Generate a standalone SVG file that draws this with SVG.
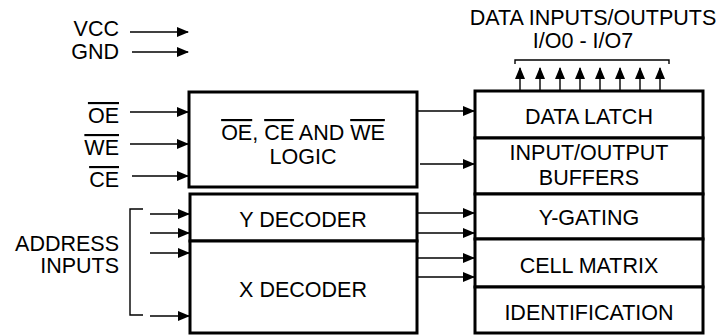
<svg xmlns="http://www.w3.org/2000/svg" width="723" height="335" viewBox="0 0 723 335">
<style>
text{font-family:"Liberation Sans",Arial,sans-serif;font-size:21.5px;fill:#000}
.r{text-anchor:end}
.m{text-anchor:middle}
.o{text-decoration:overline}
.box{fill:#fff;stroke:#000;stroke-width:3}
.w{stroke:#000;stroke-width:1.4;fill:none}
</style>
<defs>
<marker id="ah" markerWidth="12" markerHeight="10" refX="11" refY="5" orient="auto" markerUnits="userSpaceOnUse">
<path d="M0,0 L12,5 L0,10 Z" fill="#000"/>
</marker>
</defs>
<rect width="723" height="335" fill="#fff"/>
<g id="labels-left">
<text class="r" x="119" y="36">VCC</text>
<text class="r" x="119" y="59">GND</text>
<text class="r" x="119" y="123"><tspan class="o">OE</tspan></text>
<text class="r" x="119" y="155"><tspan class="o">WE</tspan></text>
<text class="r" x="119" y="187"><tspan class="o">CE</tspan></text>
<text class="r" x="119" y="251">ADDRESS</text>
<text class="r" x="119" y="273">INPUTS</text>
</g>
<g id="logic">
<rect class="box" x="189" y="92" width="228" height="95"/>
<text class="m" x="303" y="140"><tspan class="o">OE</tspan>, <tspan class="o">CE</tspan> AND <tspan class="o">WE</tspan></text>
<text class="m" x="303" y="164">LOGIC</text>
</g>
<g id="ydecoder">
<rect class="box" x="190" y="194" width="227" height="47"/>
<text class="m" x="303" y="227">Y DECODER</text>
</g>
<g id="xdecoder">
<rect class="box" x="190" y="241" width="227" height="92"/>
<text class="m" x="303" y="297">X DECODER</text>
</g>
<g id="datalatch">
<rect class="box" x="475" y="91" width="228" height="47"/>
<text class="m" x="589" y="124">DATA LATCH</text>
</g>
<g id="iobuffers">
<rect class="box" x="475" y="138" width="228" height="56"/>
<text class="m" x="589" y="160">INPUT/OUTPUT</text>
<text class="m" x="589" y="185">BUFFERS</text>
</g>
<g id="ygating">
<rect class="box" x="475" y="194" width="228" height="45"/>
<text class="m" x="589" y="225">Y-GATING</text>
</g>
<g id="cellmatrix">
<rect class="box" x="475" y="239" width="228" height="48"/>
<text class="m" x="589" y="273">CELL MATRIX</text>
</g>
<g id="identification">
<rect class="box" x="475" y="287" width="228" height="46"/>
<text class="m" x="589" y="320">IDENTIFICATION</text>
</g>
<g id="io-label">
<text class="m" x="593" y="25">DATA INPUTS/OUTPUTS</text>
<text class="m" x="583" y="48">I/O0 - I/O7</text>
<path class="w" d="M515,64 V60 H669 V64" stroke-width="1"/>
</g>
<g id="connectors">
<line class="w" x1="130" y1="32" x2="188" y2="32" marker-end="url(#ah)"/>
<line class="w" x1="132" y1="52" x2="188" y2="52" marker-end="url(#ah)"/>
<line class="w" x1="130" y1="112" x2="188" y2="112" marker-end="url(#ah)"/>
<line class="w" x1="130" y1="144" x2="188" y2="144" marker-end="url(#ah)"/>
<line class="w" x1="132" y1="176" x2="188" y2="176" marker-end="url(#ah)"/>
<path class="w" d="M143,209 H130 V315 H143" stroke-width="1.2"/>
<line class="w" x1="150" y1="214" x2="189" y2="214" marker-end="url(#ah)"/>
<line class="w" x1="150" y1="233" x2="189" y2="233" marker-end="url(#ah)"/>
<line class="w" x1="150" y1="253" x2="189" y2="253" marker-end="url(#ah)"/>
<line class="w" x1="150" y1="316" x2="189" y2="316" marker-end="url(#ah)"/>
<line class="w" x1="417" y1="111" x2="474" y2="111" marker-end="url(#ah)"/>
<line class="w" x1="420" y1="164" x2="474" y2="164" marker-end="url(#ah)"/>
<line class="w" x1="418" y1="213" x2="474" y2="213" marker-end="url(#ah)"/>
<line class="w" x1="418" y1="233" x2="474" y2="233" marker-end="url(#ah)"/>
<line class="w" x1="418" y1="258" x2="474" y2="258" marker-end="url(#ah)"/>
<line class="w" x1="418" y1="277" x2="474" y2="277" marker-end="url(#ah)"/>
<line class="w" x1="520" y1="90" x2="520" y2="68" marker-end="url(#ah)"/>
<line class="w" x1="540" y1="90" x2="540" y2="68" marker-end="url(#ah)"/>
<line class="w" x1="560" y1="90" x2="560" y2="68" marker-end="url(#ah)"/>
<line class="w" x1="580" y1="90" x2="580" y2="68" marker-end="url(#ah)"/>
<line class="w" x1="600" y1="90" x2="600" y2="68" marker-end="url(#ah)"/>
<line class="w" x1="620" y1="90" x2="620" y2="68" marker-end="url(#ah)"/>
<line class="w" x1="640" y1="90" x2="640" y2="68" marker-end="url(#ah)"/>
<line class="w" x1="660" y1="90" x2="660" y2="68" marker-end="url(#ah)"/>
</g>
</svg>
